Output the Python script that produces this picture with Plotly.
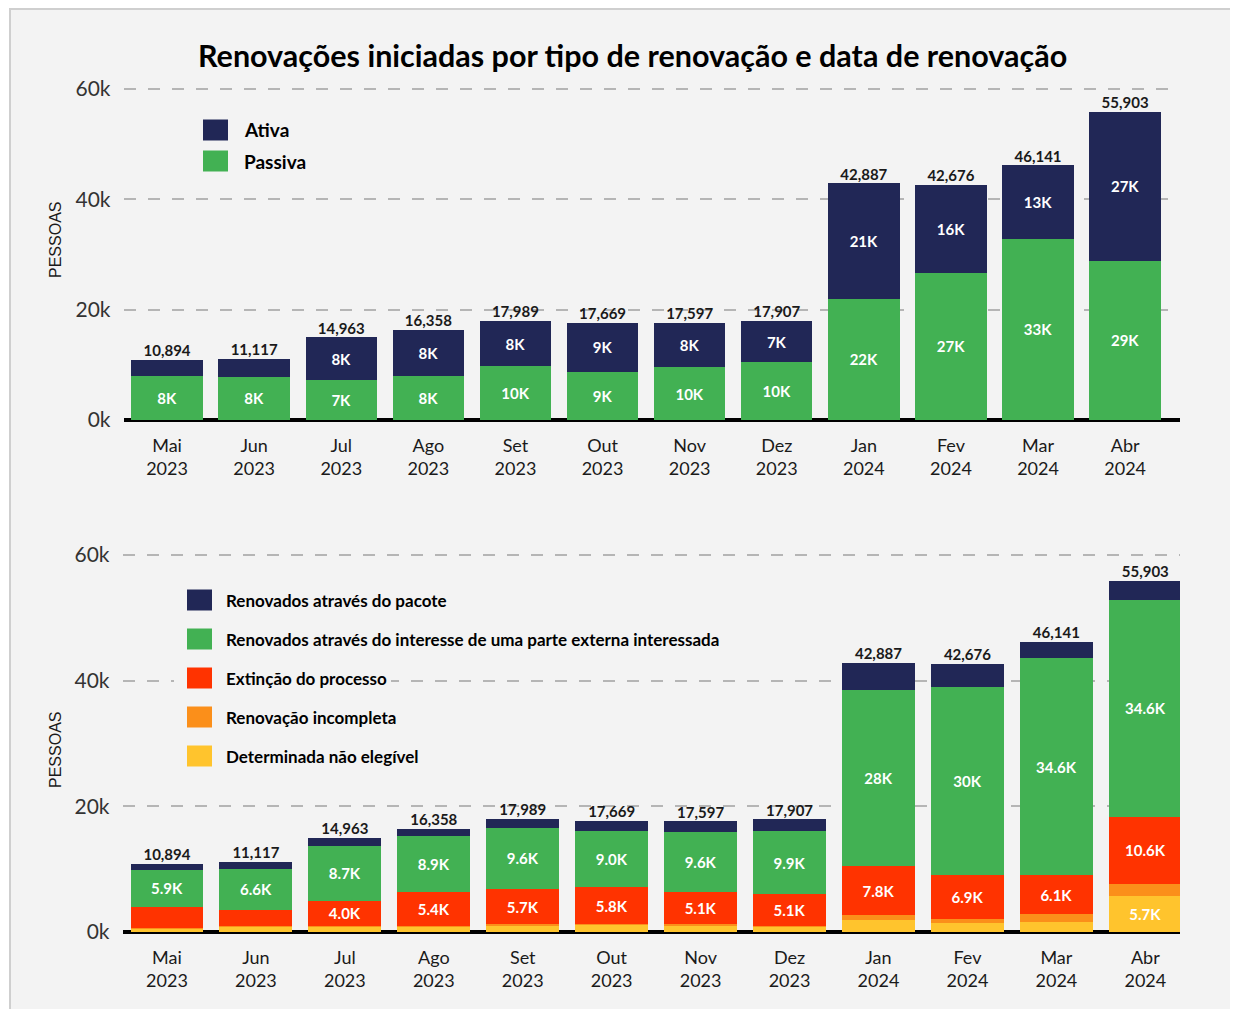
import plotly.graph_objects as go

# page body has an 8px margin: the figure is sized to fit inside the window
OX, OY = 8, 8
W, H = 1238 - 2 * OX, 1017 - 2 * OY

# ---------------- data ----------------
months = ["Mai", "Jun", "Jul", "Ago", "Set", "Out", "Nov", "Dez", "Jan", "Fev", "Mar", "Abr"]
years = ["2023"] * 8 + ["2024"] * 4
totals = [10894, 11117, 14963, 16358, 17989, 17669, 17597, 17907, 42887, 42676, 46141, 55903]

# top chart
passiva = [7900, 7850, 7250, 8050, 9700, 8700, 9550, 10500, 22000, 26700, 32900, 28900]
ativa = [2994, 3267, 7713, 8308, 8289, 8969, 8047, 7407, 20887, 15976, 13241, 27003]

# bottom chart
pacote = [994, 1017, 1263, 1058, 1489, 1569, 1697, 1907, 4387, 3676, 2541, 3003]
interesse = [5900, 6600, 8700, 8900, 9600, 9000, 9600, 9900, 28000, 30000, 34600, 34600]
extincao = [3300, 2500, 4000, 5400, 5700, 5800, 5100, 5100, 7800, 6900, 6100, 10600]
incompleta = [100, 100, 100, 100, 100, 100, 100, 100, 800, 700, 1300, 2000]
nao_elegivel = [600, 900, 900, 900, 1100, 1200, 1100, 900, 1900, 1400, 1600, 5700]

y_ticks = [0, 20000, 40000, 60000]
y_ticktext = ["0k", "20k", "40k", "60k"]

top_legend = ["Ativa", "Passiva"]
bottom_legend = [
    "Renovados através do pacote",
    "Renovados através do interesse de uma parte externa interessada",
    "Extinção do processo",
    "Renovação incompleta",
    "Determinada não elegível",
]

# ---------------- styles ----------------
NAVY = "#212756"
GREEN = "#42b153"
RED = "#ff3300"
ORANGE = "#fb8f1a"
YELLOW = "#ffc42d"
BG = "#f3f3f3"
FONT = "Lato"
YMAX = 61000

cats = [f"{m}<br>{y}" for m, y in zip(months, years)]


def px_x(p):
    return (p - OX) / W


def px_y(p):
    return 1 - (p - OY) / H


def top_px(p0, p60):
    # pixel row of YMAX given the rows of 0 and 60k
    return p0 - YMAX / 60000 * (p0 - p60)


def k_int(v, thr=3500):
    return f"{round(v / 1000)}K" if v >= thr else ""


def k_dec(v, thr=3500):
    if v < thr:
        return ""
    s = f"{v / 1000:.1f}"
    if v >= 10000 and s.endswith(".0"):
        s = s[:-2]
    return s + "K"


fig = go.Figure()

bar_text_font = dict(family=FONT, size=15, color="white", weight="bold")


def add_bar(vals, color, name, xa, ya, texts):
    fig.add_trace(go.Bar(
        x=cats, y=vals, name=name, marker=dict(color=color, line=dict(width=0)),
        text=texts, textposition="inside", insidetextanchor="middle",
        textangle=0, constraintext="none", textfont=bar_text_font,
        xaxis=xa, yaxis=ya, showlegend=False,
        hovertemplate="%{x}: %{y:,}<extra>" + name + "</extra>",
    ))


# top chart (stack bottom -> top)
add_bar(passiva, GREEN, "Passiva", "x", "y", [k_int(v) for v in passiva])
add_bar(ativa, NAVY, "Ativa", "x", "y", [k_int(v) for v in ativa])
fig.add_trace(go.Scatter(
    x=cats, y=totals, mode="text", text=[f"{v:,}" for v in totals],
    textposition="top center", cliponaxis=False,
    textfont=dict(family=FONT, size=15, color="#1a1a1a", weight="bold"),
    xaxis="x", yaxis="y", showlegend=False, hoverinfo="skip",
))

# bottom chart
add_bar(nao_elegivel, YELLOW, bottom_legend[4], "x2", "y2", [k_dec(v) for v in nao_elegivel])
add_bar(incompleta, ORANGE, bottom_legend[3], "x2", "y2", ["" for v in incompleta])
add_bar(extincao, RED, bottom_legend[2], "x2", "y2", [k_dec(v) for v in extincao])
add_bar(interesse, GREEN, bottom_legend[1], "x2", "y2", [k_dec(v) for v in interesse])
add_bar(pacote, NAVY, bottom_legend[0], "x2", "y2", ["" for v in pacote])
fig.add_trace(go.Scatter(
    x=cats, y=totals, mode="text", text=[f"{v:,}" for v in totals],
    textposition="top center", cliponaxis=False,
    textfont=dict(family=FONT, size=15, color="#1a1a1a", weight="bold"),
    xaxis="x2", yaxis="y2", showlegend=False, hoverinfo="skip",
))

xcommon = dict(type="category", showgrid=False, showline=False, zeroline=False,
               ticks="", tickfont=dict(family=FONT, size=18, color="#1a1a1a"),
               ticklabelstandoff=13, automargin=False, fixedrange=True)
ycommon = dict(range=[0, YMAX], tickvals=y_ticks, ticktext=y_ticktext,
               tickfont=dict(family=FONT, size=21, color="#333333"),
               showgrid=True, gridcolor="#b5b5b5", gridwidth=1.5, griddash="12px,12px",
               zeroline=True, zerolinecolor="#000000", zerolinewidth=4,
               showline=False, ticks="", ticklabelstandoff=12,
               automargin=False, fixedrange=True)

shapes = [
    # frame
    dict(type="rect", xref="paper", yref="paper",
         x0=px_x(10), x1=px_x(1260), y0=px_y(1040), y1=px_y(9),
         fillcolor=BG, line=dict(color="#cfcfcf", width=2), layer="below"),
]
annotations = [
    dict(text="Renovações iniciadas por tipo de renovação e data de renovação",
         xref="paper", yref="paper", x=px_x(632), y=px_y(55), xanchor="center", yanchor="middle",
         showarrow=False, font=dict(family=FONT, size=30.5, color="#000000", weight="bold")),
    dict(text="PESSOAS", xref="paper", yref="paper", x=px_x(55), y=px_y(240),
         textangle=-90, showarrow=False, xanchor="center", yanchor="middle",
         font=dict(family="Liberation Sans", size=16, color="#1a1a1a")),
    dict(text="PESSOAS", xref="paper", yref="paper", x=px_x(55), y=px_y(750),
         textangle=-90, showarrow=False, xanchor="center", yanchor="middle",
         font=dict(family="Liberation Sans", size=16, color="#1a1a1a")),
]

# manual legends
for name, color, yc in zip(top_legend, [NAVY, GREEN], [130, 161]):
    shapes.append(dict(type="rect", xref="paper", yref="paper",
                       x0=px_x(203), x1=px_x(228), y0=px_y(yc + 10.5), y1=px_y(yc - 10.5),
                       fillcolor=color, line=dict(width=0)))
    annotations.append(dict(text=name, xref="paper", yref="paper", x=px_x(242), y=px_y(yc),
                            xanchor="left", yanchor="middle", showarrow=False,
                            font=dict(family=FONT, size=19, color="#000000", weight="bold")))

for name, color, yc in zip(bottom_legend, [NAVY, GREEN, RED, ORANGE, YELLOW],
                           [600, 639, 678, 717, 756]):
    # legend item background hides the gridline behind it
    shapes.append(dict(type="rect", xref="paper", yref="paper",
                       x0=px_x(174), x1=px_x(232), y0=px_y(yc + 12), y1=px_y(yc - 12),
                       fillcolor=BG, line=dict(width=0)))
    shapes.append(dict(type="rect", xref="paper", yref="paper",
                       x0=px_x(187), x1=px_x(212), y0=px_y(yc + 10.5), y1=px_y(yc - 10.5),
                       fillcolor=color, line=dict(width=0)))
    annotations.append(dict(text=name, xref="paper", yref="paper", x=px_x(222), y=px_y(yc),
                            xanchor="left", yanchor="middle", showarrow=False,
                            bgcolor=BG, borderpad=4, borderwidth=0,
                            font=dict(family=FONT, size=17, color="#000000", weight="bold")))

fig.update_layout(
    width=W, height=H,
    margin=dict(l=0, r=0, t=0, b=0),
    paper_bgcolor="#ffffff", plot_bgcolor="rgba(0,0,0,0)",
    barmode="stack", bargap=0.18,
    xaxis=dict(xcommon, domain=[px_x(123.5), px_x(1180)], range=[-0.5, 11.63], anchor="y"),
    yaxis=dict(ycommon, domain=[px_y(420), px_y(top_px(420, 89))], anchor="x"),
    xaxis2=dict(xcommon, domain=[px_x(122.5), px_x(1180)], range=[-0.5, 11.39], anchor="y2"),
    yaxis2=dict(ycommon, domain=[px_y(932), px_y(top_px(932, 555))], anchor="x2"),
    shapes=shapes,
    annotations=annotations,
    font=dict(family=FONT),
)

fig.write_html("out.html")
